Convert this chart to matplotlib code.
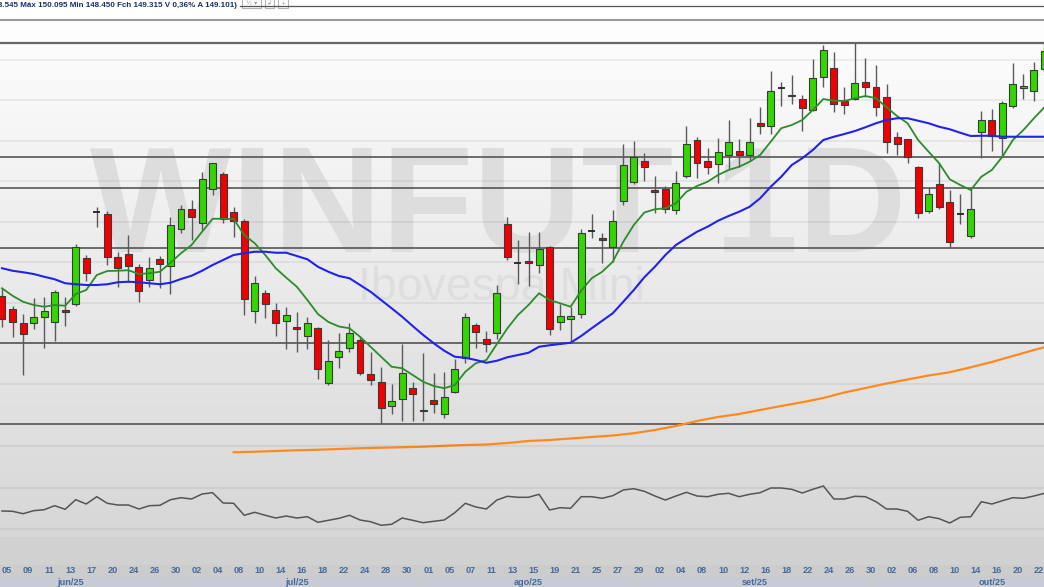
import numpy as np
import pandas as pd
import matplotlib
matplotlib.use("Agg")
import matplotlib.pyplot as plt
from matplotlib.patches import Rectangle
from matplotlib.lines import Line2D

W, H = 1044, 587

# daily candles of WINFUT, 05/jun/25 .. 23/out/25
opens = [139670, 139130, 138570, 138590, 138810, 138630, 139100, 139330, 141170, 143030,
         142940, 141230, 141340, 140830, 140290, 141130, 140860, 142330, 143150, 142590,
         143950, 144540, 143010, 142660, 139070, 139770, 139100, 138670, 138420, 138070,
         138370, 136170, 137210, 137580, 137900, 136540, 136230, 135270, 135530, 135990,
         135050, 135500, 134930, 135830, 137190, 138490, 137930, 138170, 142530, 140990,
         141040, 140900, 141630, 138610, 138750, 138940, 142260, 141970, 141610, 143470,
         144230, 145060, 143900, 143950, 143100, 144460, 145900, 145060, 144940, 145290,
         145470, 145290, 146590, 146460, 147970, 147650, 147550, 147090, 148430, 148770,
         147470, 147530, 148230, 148030, 147630, 146030, 145930, 144830, 143060, 144130,
         143430, 142950, 142060, 146210, 146710, 145970, 147270, 147970, 147870, 148730]
highs = [139980, 139260, 138940, 139570, 139620, 139900, 139620, 141740, 141300, 143230,
         143070, 141430, 142100, 140940, 141230, 141260, 142810, 143290, 143500, 144630,
         144980, 144620, 143230, 142730, 140460, 139900, 139390, 139230, 139020, 138830,
         138410, 137900, 138190, 138590, 138030, 137430, 136830, 136130, 137730, 136230,
         137370, 136570, 136630, 137130, 138990, 138590, 138260, 140100, 142830, 141900,
         142230, 142230, 141660, 139340, 139210, 142330, 142930, 142170, 143100, 145740,
         145860, 145370, 144460, 144060, 144670, 146460, 146030, 145570, 145970, 146700,
         145930, 146770, 147210, 148670, 148230, 148510, 147690, 149130, 149700, 149430,
         148010, 149800, 149170, 148900, 148140, 146210, 145950, 144860, 144030, 144970,
         143900, 143730, 143930, 147070, 147130, 147460, 148970, 148540, 149010, 150200]
lows = [138410, 138010, 136500, 138330, 137590, 137870, 138460, 139270, 140260, 142410,
        140900, 140030, 140230, 139430, 140030, 139970, 139740, 142170, 141900, 142300,
        143700, 142570, 142010, 138900, 138570, 138770, 138060, 137530, 137430, 137530,
        136330, 136090, 136770, 137420, 136500, 136100, 134570, 134930, 134670, 134670,
        134670, 134970, 134770, 135770, 136970, 137590, 137410, 137930, 141100, 140140,
        140060, 140570, 138100, 138300, 137790, 138770, 141990, 140990, 141030, 143300,
        144140, 144270, 142970, 142970, 142930, 144380, 144370, 144540, 144190, 144730,
        144810, 145070, 146130, 146150, 147270, 147340, 146270, 147060, 148030, 147030,
        146940, 147500, 147630, 146860, 145370, 145300, 144990, 142790, 142990, 143140,
        141570, 142530, 141990, 145170, 145460, 145210, 147190, 147540, 147470, 148630]
closes = [138730, 138620, 138140, 138810, 139060, 139830, 139030, 141630, 140570, 143030,
          141230, 140790, 140870, 139860, 140780, 140930, 142490, 143130, 142820, 144330,
          144970, 142730, 142670, 139530, 140190, 139340, 138570, 138910, 138330, 138570,
          136730, 137060, 137470, 138170, 136570, 136300, 135190, 135460, 136570, 135730,
          135100, 135340, 135610, 136730, 138810, 138210, 137750, 139770, 141230, 140990,
          141000, 141530, 138330, 138870, 138870, 142170, 142260, 141900, 142670, 144890,
          145210, 144810, 143810, 143130, 144170, 145740, 144970, 144810, 145430, 145830,
          145290, 145830, 146470, 147850, 147970, 147710, 147190, 148390, 149500, 147340,
          147310, 148170, 148010, 147210, 145810, 145750, 145210, 142990, 143740, 143230,
          141830, 142950, 143130, 146700, 146070, 147370, 148130, 148070, 148700, 149470]

# moving averages as drawn on the chart
ma_short = [139970, 139670, 139430, 139300, 139230, 139300, 139270, 139740, 139900, 140500,
            140660, 140670, 140690, 140540, 140570, 140630, 140990, 141370, 141700, 142230,
            142750, 142750, 142740, 142100, 141770, 141300, 140770, 140390, 140030, 139500,
            138940, 138620, 138440, 138370, 138030, 137630, 137230, 136830, 136770, 136500,
            136230, 136060, 135970, 136100, 136630, 136970, 137100, 137740, 138370, 138900,
            139300, 139770, 139500, 139370, 139230, 139870, 140370, 140630, 141030, 141830,
            142500, 143000, 143130, 143170, 143370, 143830, 144060, 144230, 144500, 144700,
            144830, 145030, 145300, 145830, 146370, 146500, 146700, 147100, 147540, 147470,
            147460, 147570, 147660, 147570, 147210, 146860, 146570, 145900, 145430, 144970,
            144330, 144100, 143900, 144430, 144700, 145230, 145900, 146300, 146770, 147210]
ma_mid = [140770, 140670, 140610, 140540, 140430, 140330, 140170, 140130, 140100, 140100,
          140130, 140210, 140230, 140210, 140170, 140130, 140190, 140340, 140470, 140670,
          140900, 141100, 141300, 141370, 141430, 141430, 141390, 141390, 141260, 141130,
          140830, 140630, 140460, 140370, 140100, 139830, 139500, 139170, 138830, 138460,
          138100, 137770, 137470, 137230, 137190, 137100, 136990, 137070, 137210, 137300,
          137390, 137630, 137690, 137740, 137790, 138060, 138370, 138670, 138970, 139430,
          139900, 140410, 140830, 141300, 141700, 141970, 142230, 142430, 142670, 142860,
          143030, 143230, 143570, 144030, 144430, 144900, 145170, 145500, 145900, 146030,
          146140, 146260, 146410, 146570, 146700, 146770, 146770, 146670, 146570, 146430,
          146330, 146190, 146060, 146070, 146070, 146030, 146030, 146030, 146030, 146030]
# long average, read every second session from session 22, plus the last one
ma_long_start = 22
ma_long = [133410, 133430, 133460, 133490, 133510, 133540, 133570, 133590, 133610, 133630,
           133670, 133700, 133720, 133780, 133860, 133900, 133960, 134020, 134080, 134170,
           134300, 134460, 134660, 134820, 134940, 135100, 135260, 135410, 135580, 135800,
           135980, 136160, 136320, 136480, 136610, 136810, 137020, 137260, 137500, 137610]

# lower oscillator
osc = [34.0, 33.7, 31.3, 34.3, 35.3, 39.3, 35.7, 45.3, 41.0, 48.3,
       41.7, 40.0, 40.0, 36.0, 39.3, 39.7, 45.3, 47.3, 46.0, 51.0,
       52.3, 42.0, 41.7, 29.7, 32.7, 29.7, 27.0, 29.0, 27.0, 28.3,
       22.7, 24.7, 26.7, 29.7, 25.0, 23.3, 19.7, 20.7, 27.0, 24.7,
       22.3, 23.7, 25.0, 32.3, 41.7, 38.0, 36.0, 45.0, 48.7, 47.7,
       47.7, 50.7, 35.0, 37.3, 36.7, 48.3, 48.3, 46.7, 49.3, 55.0,
       56.3, 53.7, 49.0, 45.0, 49.0, 52.7, 49.0, 48.3, 50.7, 51.7,
       48.3, 50.7, 52.3, 57.0, 57.0, 55.7, 52.0, 55.7, 59.0, 46.0,
       46.0, 48.7, 48.3, 43.3, 36.0, 36.0, 33.7, 24.7, 28.3, 26.3,
       22.0, 27.7, 28.3, 43.3, 41.0, 44.3, 47.3, 46.7, 49.0, 51.7]

# horizontal levels drawn by hand
levels = [145210, 143970, 141570, 137770, 134550]

month_names = ["jan", "fev", "mar", "abr", "mai", "jun", "jul", "ago", "set", "out", "nov", "dez"]
header = "(Abe 148.545 Máx 150.095 Min 148.450 Fch 149.315 V 0,36% A 149.101)"

# trading sessions (B3 closed on Corpus Christi)
days = pd.bdate_range("2025-06-02", "2025-10-31")
days = days[days != pd.Timestamp("2025-06-19")]
first = list(days).index(pd.Timestamp("2025-06-05"))
pos = np.arange(len(days)) - first

n = len(closes)
x = np.arange(n)
step = 10.53
xlim = ((0 - 2) / step, (W - 2) / step)


def fy(py):
    return 1 - py / H


fig = plt.figure(figsize=(W / 100, H / 100), dpi=100)

# background gradient + watermark
bg = fig.add_axes([0, 0, 1, 1], zorder=-2)
rows = np.ones(H)
rows[20:43] = 0.99
rows[43:537] = np.linspace(0.985, 0.84, 494)
rows[537:565] = 0.82
rows[565:] = 0.80
bg.imshow(rows[:, None], cmap="gray", vmin=0, vmax=1, aspect="auto", extent=[0, 1, 0, 1])
bg.set_xlim(0, 1)
bg.set_ylim(0, 1)
bg.axis("off")
bg.text(498 / W, fy(252), "WINFUT 1D", ha="center", va="baseline", fontsize=108,
        fontweight="bold", family="Liberation Sans", color="#dddddd")
bg.text(501 / W, fy(300), "Ibovespa Mini", ha="center", va="baseline", fontsize=33.5,
        family="Liberation Sans", color="#dedede")

# price panel
ax = fig.add_axes([0, 0, 1, (H - 43) / H], zorder=1)
ax.set_facecolor("none")
ax.set_xlim(*xlim)
ax.set_ylim(151500 - 40 * H, 151500 - 40 * 43)
ax.axis("off")

for g in np.arange(134540, 149200, 1620):
    ax.axhline(g, color="black", alpha=0.06, lw=1.3, zorder=0)
for lv in levels:
    ax.axhline(lv, color="#555555", lw=1.2, zorder=1)

o = np.array(opens)
c = np.array(closes)
hi = np.array(highs)
lo = np.array(lows)
up = c > o
dn = c < o
flat = c == o
body_lo = np.minimum(o, c)
body_h = np.maximum(np.abs(c - o), 45)

ax.vlines(x, lo, hi, color="#5a5a5a", lw=1.0, zorder=3)
ax.bar(x[up], body_h[up], bottom=body_lo[up], width=0.66, color="#33d600",
       edgecolor="#3a3a3a", linewidth=0.8, zorder=4)
ax.bar(x[dn], body_h[dn], bottom=body_lo[dn], width=0.66, color="#f20000",
       edgecolor="#3a3a3a", linewidth=0.8, zorder=4)
ax.hlines(c[flat], x[flat] - 0.33, x[flat] + 0.33, color="#222222", lw=1.3, zorder=4)

ax.plot(x, ma_short, color="#2c8c2c", lw=1.3, zorder=5)
ax.plot(x, ma_mid, color="#2222ee", lw=1.5, zorder=5)
long_x = list(range(ma_long_start, n - 1, 2)) + [n - 1]
ax.plot(long_x, ma_long, color="#ff8a1c", lw=1.6, zorder=5)

# oscillator drawn over the lower part
ox = fig.add_axes([0, 0, 1, (H - 43) / H], zorder=2)
ox.set_facecolor("none")
ox.set_xlim(*xlim)
ox.set_ylim(545 - H, 545 - 43)
ox.axis("off")
for g in [99.5, 57.3, 16]:
    ox.axhline(g, color="black", alpha=0.05, lw=1.5, zorder=0)
ox.plot(x, osc, color="#555555", lw=1.1)

# date strip
dx = fig.add_axes([0, 0, 1, 22 / H], zorder=3)
dx.set_xlim(*xlim)
dx.set_ylim(H, H - 22)
dx.axis("off")
for i in range(0, n, 2):
    d = days[first + i]
    dx.text(i, 570.5, f"{d.day:02d}", ha="left", va="center", fontsize=6.6,
            fontweight="bold", family="Liberation Sans", color="#46699a")
months = pd.Series(pos, index=days).groupby([days.year, days.month])
for (yy, mm), p in months:
    a, b = p.min() - 0.5, p.max() + 0.5
    dx.add_patch(Rectangle((a + 0.1, 577), b - a - 0.2, 10, color="#c7cbd3", lw=0))
    dx.text((a + b) / 2, 582.5, f"{month_names[mm - 1]}/{yy % 100}", ha="center",
            va="center", fontsize=6.6, fontweight="bold", family="Liberation Sans",
            color="#46699a")

# header strip
fig.add_artist(Line2D([240 / W, 1], [fy(6), fy(6)], color="#555555", lw=0.9))
for bx, bw, s in [(242, 19, "½ ▾"), (265, 9, "↲"), (278, 10, "+")]:
    fig.add_artist(Rectangle((bx / W, fy(8)), bw / W, 9 / H, transform=fig.transFigure,
                             facecolor="white", edgecolor="#b4b4b4", lw=0.8))
    fig.text((bx + bw / 2) / W, fy(3.5), s, ha="center", va="center", fontsize=4.5,
             color="#9a9a9a")
fig.add_artist(Line2D([0, 1], [fy(20), fy(20)], color="#9a9a9a", lw=1.5))
fig.add_artist(Line2D([0, 1], [fy(43), fy(43)], color="#666666", lw=1.6))
fig.text(237 / W, fy(7.3), header, ha="right", va="baseline", fontsize=5.75,
         fontweight="bold", family="Liberation Sans", color="#1b2e6b")

fig.savefig("out.png", dpi=100)
